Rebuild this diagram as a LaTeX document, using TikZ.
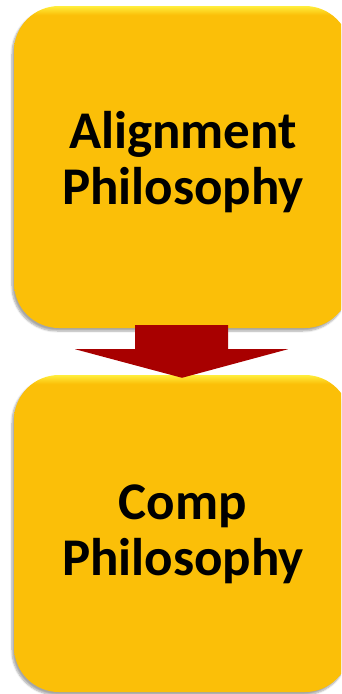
\documentclass[tikz,border=0pt]{standalone}
\usepackage{fontspec}
\setmainfont{Carlito}
\usetikzlibrary{calc,shadows.blur}
\definecolor{boxbody}{RGB}{251,191,8}
\definecolor{boxhi}{RGB}{255,238,60}
\definecolor{arrowred}{RGB}{168,0,0}
\pgfdeclareverticalshading{boxshade}{100bp}{color(0bp)=(boxbody); color(73.6bp)=(boxbody); color(75bp)=(boxhi); color(100bp)=(boxhi)}
\tikzset{
  pbox/.style={shade, shading=boxshade, rounded corners=45pt, minimum width=336pt, inner sep=0pt,
    align=center, font=\bfseries\fontsize{53}{56}\selectfont, text=black,
    blur shadow={shadow xshift=-2pt, shadow yshift=-3pt, shadow blur steps=6, shadow opacity=35}},
  blockarrow/.style={fill=arrowred},
  ptext/.style={align=center, font=\bfseries\fontsize{53}{56}\selectfont, text=black, inner sep=0pt}
}
\begin{document}
\begin{tikzpicture}[x=1pt,y=-1pt]
\useasboundingbox (0,0) rectangle (341,694);
\begin{scope}
\clip (0,0) rectangle (341,694);
\node[pbox, minimum height=322pt] (top) at (182,167) {};
\node[pbox, minimum height=317pt] (bot) at (182,533.5) {};
\node[ptext] (toptext) at (183,162) {Alignment\\Philosophy};
\node[ptext] (bottext) at (183,534) {Comp\\Philosophy};
\fill[blockarrow] ($(top.south)+(-47,-3)$) -- ($(top.south)+(46,-3)$) -- ($(top.south)+(46,21)$)
  -- ($(top.south)+(106,21)$) -- ($(bot.north)+(0,3)$) -- ($(top.south)+(-107,21)$)
  -- ($(top.south)+(-47,21)$) -- cycle;
\end{scope}
\end{tikzpicture}
\end{document}
